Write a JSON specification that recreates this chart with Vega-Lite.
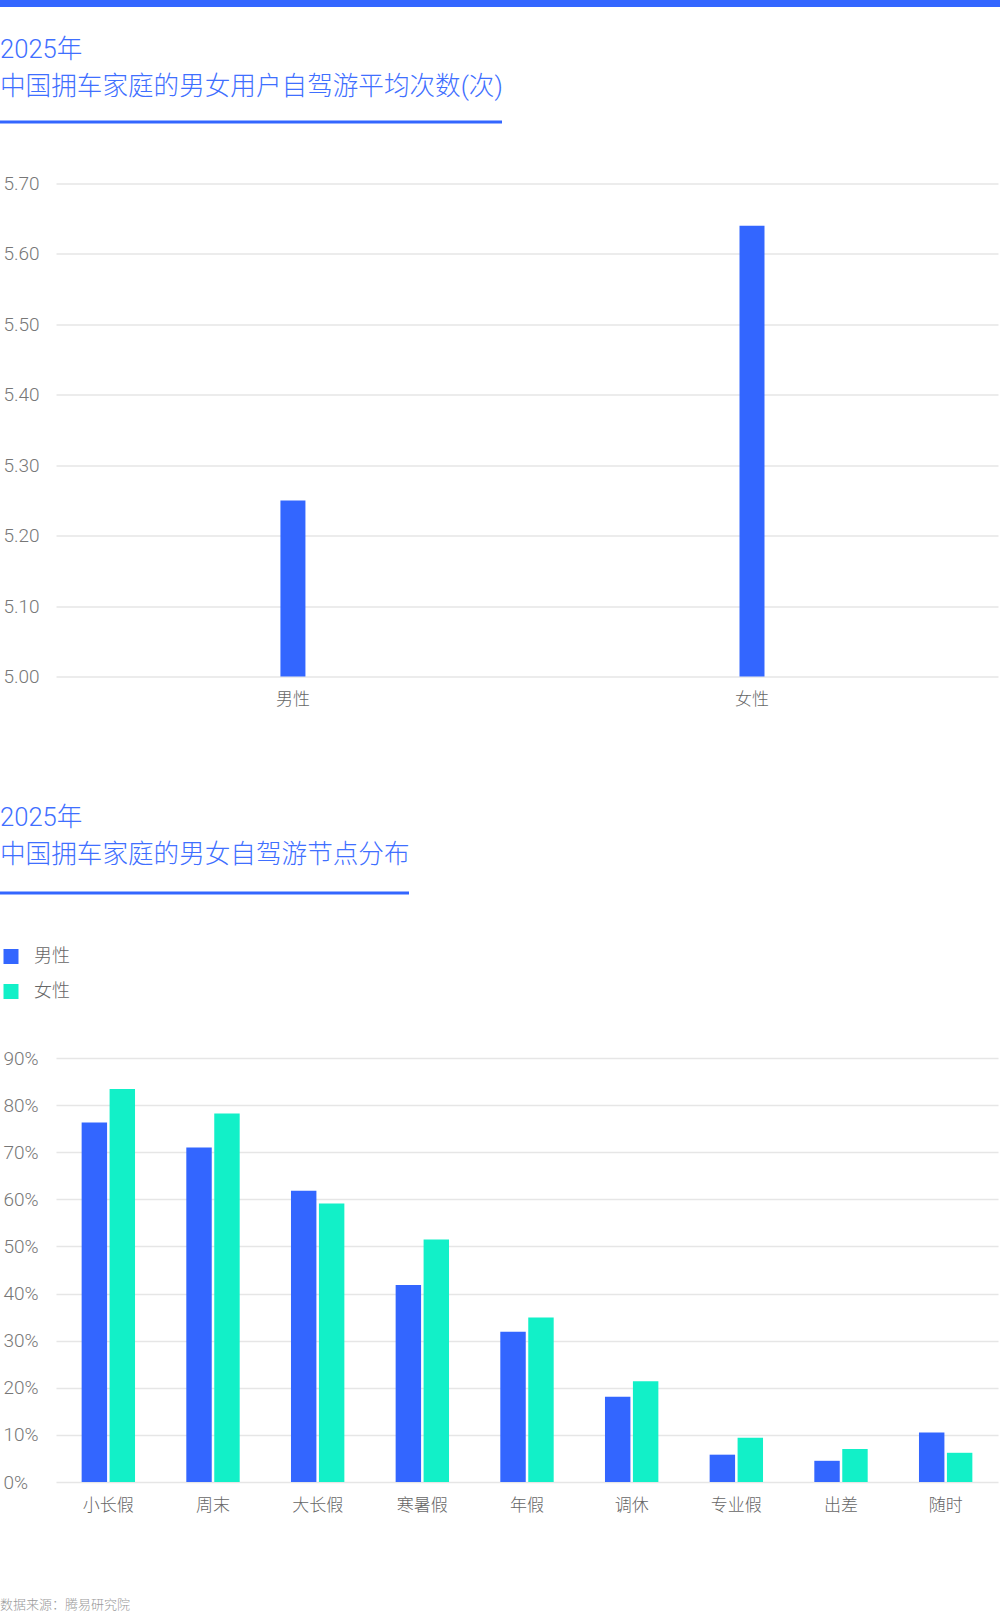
{
  "$schema": "https://vega.github.io/schema/vega-lite/v6.json",
  "padding": 0,
  "background": "white",
  "datasets": {
    "avg": [
      {"gender": "男性", "trips": 5.25},
      {"gender": "女性", "trips": 5.64}
    ],
    "nodes": [
      {"node": "小长假", "gender": "男性", "share": 0.763},
      {"node": "小长假", "gender": "女性", "share": 0.834},
      {"node": "周末", "gender": "男性", "share": 0.710},
      {"node": "周末", "gender": "女性", "share": 0.782},
      {"node": "大长假", "gender": "男性", "share": 0.618},
      {"node": "大长假", "gender": "女性", "share": 0.591},
      {"node": "寒暑假", "gender": "男性", "share": 0.418},
      {"node": "寒暑假", "gender": "女性", "share": 0.515},
      {"node": "年假", "gender": "男性", "share": 0.319},
      {"node": "年假", "gender": "女性", "share": 0.349},
      {"node": "调休", "gender": "男性", "share": 0.181},
      {"node": "调休", "gender": "女性", "share": 0.214},
      {"node": "专业假", "gender": "男性", "share": 0.058},
      {"node": "专业假", "gender": "女性", "share": 0.094},
      {"node": "出差", "gender": "男性", "share": 0.045},
      {"node": "出差", "gender": "女性", "share": 0.070},
      {"node": "随时", "gender": "男性", "share": 0.105},
      {"node": "随时", "gender": "女性", "share": 0.062}
    ],
    "blank": []
  },
  "config": {
    "view": {"stroke": null},
    "font": "Roboto, Noto Sans CJK SC",
    "axis": {"labelFont": "Roboto, Noto Sans CJK SC", "labelFontWeight": 300},
    "legend": {"labelFont": "Roboto, Noto Sans CJK SC", "labelFontWeight": 300},
    "title": {"font": "Roboto, Noto Sans CJK SC", "fontWeight": 300}
  },
  "columns": 1,
  "align": "none",
  "spacing": 30.5,
  "resolve": {"legend": {"color": "independent"}, "scale": {"color": "independent"}},
  "concat": [
    {
      "width": 1000,
      "height": 7,
      "data": {"name": "blank"},
      "mark": "rule",
      "encoding": {},
      "view": {"fill": "#3366ff", "stroke": null}
    },
    {
      "columns": 1,
      "align": "none",
      "spacing": 98,
      "resolve": {"legend": {"color": "independent"}, "scale": {"color": "independent"}},
      "concat": [
        {
          "columns": 1,
          "align": "none",
          "spacing": 51,
          "concat": [
            {
              "width": 502,
              "height": 3,
              "data": {"name": "blank"},
              "mark": "rule",
              "encoding": {},
              "view": {"fill": "#3366ff", "stroke": null},
              "title": {
                "text": ["2025年", "中国拥车家庭的男女用户自驾游平均次数(次)"],
                "anchor": "start",
                "frame": "group",
                "fontSize": 25.6,
                "lineHeight": 37,
                "color": "#3f6fff",
                "offset": 20
              }
            },
            {
              "bounds": "flush",
              "spacing": 0,
              "hconcat": [
                {
                  "width": 56,
                  "height": 1,
                  "data": {"name": "blank"},
                  "mark": "rule",
                  "encoding": {}
                },
                {
                  "width": 942,
                  "height": 493,
                  "data": {"name": "avg"},
                  "mark": {"type": "bar", "width": 25, "color": "#3366ff"},
                  "encoding": {
                    "x": {
                      "field": "gender",
                      "type": "nominal",
                      "sort": null,
                      "scale": {"paddingInner": 0, "paddingOuter": 0.026, "align": 0.31},
                      "axis": {
                        "title": null,
                        "labelAngle": 0,
                        "labelFontSize": 17,
                        "labelColor": "#666666",
                        "labelPadding": 15,
                        "domain": false,
                        "ticks": false,
                        "grid": false
                      }
                    },
                    "y": {
                      "field": "trips",
                      "type": "quantitative",
                      "scale": {"domain": [5, 5.7], "zero": false, "nice": false},
                      "axis": {
                        "title": null,
                        "values": [5, 5.1, 5.2, 5.3, 5.4, 5.5, 5.6, 5.7],
                        "format": ".2f",
                        "grid": true,
                        "gridColor": "#e6e6e6",
                        "gridWidth": 1.5,
                        "domain": false,
                        "ticks": false,
                        "tickSize": 0,
                        "labelAlign": "left",
                        "labelPadding": 53,
                        "minExtent": 56,
                        "maxExtent": 56,
                        "labelFontSize": 19,
                        "labelColor": "#777777"
                      }
                    },
                    "y2": {"datum": 5}
                  }
                }
              ]
            }
          ]
        },
        {
          "columns": 1,
          "align": "none",
          "spacing": 52.5,
          "resolve": {"legend": {"color": "independent"}, "scale": {"color": "independent"}},
          "concat": [
            {
              "width": 409,
              "height": 3,
              "data": {"name": "blank"},
              "mark": "rule",
              "encoding": {},
              "view": {"fill": "#3366ff", "stroke": null},
              "title": {
                "text": ["2025年", "中国拥车家庭的男女自驾游节点分布"],
                "anchor": "start",
                "frame": "group",
                "fontSize": 25.6,
                "lineHeight": 36.5,
                "color": "#3f6fff",
                "offset": 23
              }
            },
            {
              "bounds": "flush",
              "spacing": 0,
              "resolve": {"legend": {"color": "independent"}, "scale": {"color": "independent"}},
              "hconcat": [
                {
                  "width": 56,
                  "height": 1,
                  "data": {"name": "blank"},
                  "mark": "rule",
                  "encoding": {}
                },
                {
                  "width": 942,
                  "height": 424,
                  "data": {"name": "nodes"},
                  "mark": {"type": "bar"},
                  "title": {
                    "text": "数据来源：腾易研究院",
                    "orient": "bottom",
                    "anchor": "start",
                    "frame": "bounds",
                    "fontSize": 13,
                    "color": "#999999",
                    "offset": 86
                  },
                  "encoding": {
                    "x": {
                      "field": "node",
                      "type": "nominal",
                      "sort": null,
                      "scale": {"paddingInner": 0.49, "paddingOuter": 0.245},
                      "axis": {
                        "title": null,
                        "labelAngle": 0,
                        "labelFontSize": 17,
                        "labelColor": "#666666",
                        "labelPadding": 15,
                        "domain": false,
                        "ticks": false,
                        "grid": false
                      }
                    },
                    "xOffset": {
                      "field": "gender",
                      "type": "nominal",
                      "sort": ["男性", "女性"],
                      "scale": {"paddingInner": 0.09, "paddingOuter": 0}
                    },
                    "y": {
                      "field": "share",
                      "type": "quantitative",
                      "scale": {"domain": [0, 0.9], "nice": false},
                      "axis": {
                        "title": null,
                        "values": [0, 0.1, 0.2, 0.3, 0.4, 0.5, 0.6, 0.7, 0.8, 0.9],
                        "format": ".0%",
                        "grid": true,
                        "gridColor": "#e6e6e6",
                        "gridWidth": 1.5,
                        "domain": false,
                        "ticks": false,
                        "tickSize": 0,
                        "labelAlign": "left",
                        "labelPadding": 53,
                        "minExtent": 56,
                        "maxExtent": 56,
                        "labelFontSize": 19,
                        "labelColor": "#777777"
                      }
                    },
                    "color": {
                      "field": "gender",
                      "type": "nominal",
                      "scale": {"domain": ["男性", "女性"], "range": ["#3366ff", "#12f0c8"]},
                      "legend": {
                        "orient": "none",
                        "legendX": -54,
                        "legendY": -110.5,
                        "title": null,
                        "direction": "vertical",
                        "symbolType": "square",
                        "symbolSize": 225,
                        "symbolStrokeWidth": 0,
                        "labelFontSize": 18,
                        "labelColor": "#666666",
                        "labelOffset": 14,
                        "rowPadding": 17,
                        "padding": 0
                      }
                    }
                  }
                }
              ]
            }
          ]
        }
      ]
    }
  ]
}
